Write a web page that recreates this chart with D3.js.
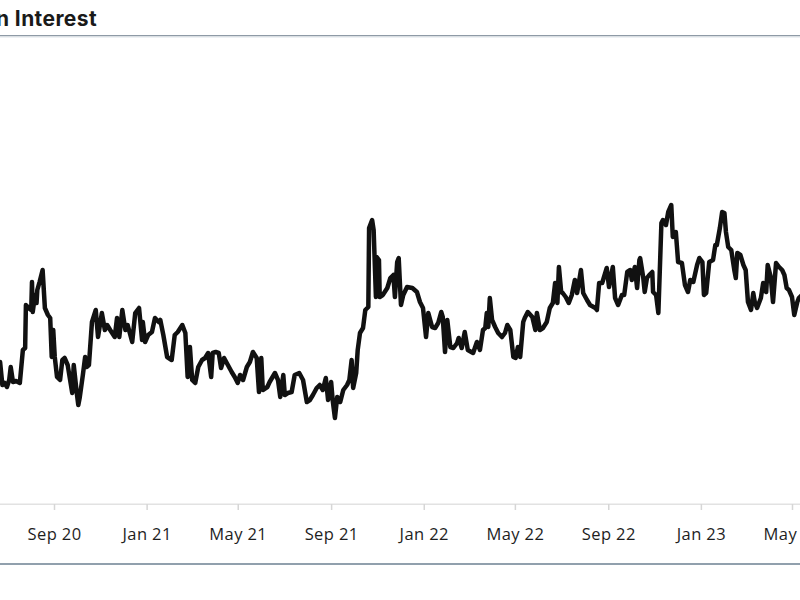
<!DOCTYPE html>
<html>
<head>
<meta charset="utf-8">
<script src="https://cdn.jsdelivr.net/npm/d3@7/dist/d3.min.js"></script>
<style>
  html, body { margin: 0; padding: 0; background: #ffffff; }
  svg { display: block; }
</style>
</head>
<body>
<svg id="chart" width="800" height="600"></svg>
<script>
const titleText = "Open Interest";

const dates = [
"2020-06-22","2020-06-25","2020-06-28","2020-07-01","2020-07-04","2020-07-06","2020-07-09","2020-07-13","2020-07-18","2020-07-22",
"2020-07-25","2020-07-26","2020-07-30","2020-08-02","2020-08-03","2020-08-04","2020-08-07","2020-08-09","2020-08-10","2020-08-13",
"2020-08-17","2020-08-20","2020-08-24","2020-08-27","2020-08-29","2020-08-31","2020-09-02","2020-09-05","2020-09-09","2020-09-12",
"2020-09-15","2020-09-19","2020-09-25","2020-09-27","2020-10-01","2020-10-03","2020-10-05","2020-10-09","2020-10-12","2020-10-14",
"2020-10-17","2020-10-21","2020-10-26","2020-10-29","2020-11-03","2020-11-07","2020-11-10","2020-11-14","2020-11-20","2020-11-23",
"2020-11-26","2020-11-30","2020-12-04","2020-12-07","2020-12-13","2020-12-17","2020-12-22","2020-12-26","2020-12-27","2020-12-30",
"2021-01-03","2021-01-08","2021-01-12","2021-01-17","2021-01-19","2021-01-23","2021-01-28","2021-02-03","2021-02-07","2021-02-11",
"2021-02-17","2021-02-21","2021-02-24","2021-02-27","2021-03-02","2021-03-06","2021-03-10","2021-03-15","2021-03-19","2021-03-23",
"2021-03-27","2021-03-29","2021-04-02","2021-04-06","2021-04-09","2021-04-13","2021-04-18","2021-04-23","2021-04-27","2021-05-01",
"2021-05-04","2021-05-08","2021-05-13","2021-05-17","2021-05-21","2021-05-26","2021-05-29","2021-06-01","2021-06-03","2021-06-09",
"2021-06-12","2021-06-19","2021-06-23","2021-06-26","2021-06-30","2021-07-02","2021-07-06","2021-07-11","2021-07-15","2021-07-21",
"2021-07-26","2021-07-31","2021-08-04","2021-08-08","2021-08-13","2021-08-17","2021-08-21","2021-08-25","2021-08-28","2021-09-01",
"2021-09-03","2021-09-06","2021-09-09","2021-09-13","2021-09-17","2021-09-22","2021-09-25","2021-09-28","2021-09-30","2021-10-04",
"2021-10-06","2021-10-09","2021-10-13","2021-10-16","2021-10-20","2021-10-21","2021-10-25","2021-10-27","2021-10-30","2021-10-31",
"2021-11-03","2021-11-04","2021-11-08","2021-11-14","2021-11-18","2021-11-22","2021-11-24","2021-11-27","2021-11-29","2021-12-02",
"2021-12-05","2021-12-10","2021-12-17","2021-12-23","2021-12-27","2021-12-31","2022-01-04","2022-01-07","2022-01-12","2022-01-16",
"2022-01-20","2022-01-24","2022-01-26","2022-01-29","2022-02-01","2022-02-05","2022-02-09","2022-02-14","2022-02-16","2022-02-20",
"2022-02-24","2022-02-28","2022-03-07","2022-03-12","2022-03-16","2022-03-20","2022-03-23","2022-03-25","2022-03-27","2022-03-29",
"2022-04-01","2022-04-05","2022-04-09","2022-04-14","2022-04-18","2022-04-21","2022-04-25","2022-04-29","2022-05-02","2022-05-05",
"2022-05-08","2022-05-12","2022-05-14","2022-05-18","2022-05-24","2022-05-28","2022-05-30","2022-06-03","2022-06-07","2022-06-12",
"2022-06-16","2022-06-20","2022-06-23","2022-06-26","2022-06-28","2022-07-01","2022-07-03","2022-07-07","2022-07-11","2022-07-15",
"2022-07-19","2022-07-22","2022-07-27","2022-07-30","2022-08-04","2022-08-08","2022-08-15","2022-08-17","2022-08-20","2022-08-24",
"2022-08-26","2022-08-30","2022-09-02","2022-09-07","2022-09-10","2022-09-14","2022-09-19","2022-09-22","2022-09-26","2022-09-30",
"2022-10-02","2022-10-06","2022-10-09","2022-10-12","2022-10-13","2022-10-17","2022-10-19","2022-10-22","2022-10-25","2022-10-29",
"2022-10-30","2022-11-03","2022-11-06","2022-11-10","2022-11-12","2022-11-16","2022-11-19","2022-11-23","2022-11-25","2022-11-29",
"2022-12-02","2022-12-07","2022-12-11","2022-12-15","2022-12-18","2022-12-22","2022-12-27","2022-12-30","2023-01-03","2023-01-05",
"2023-01-08","2023-01-12","2023-01-17","2023-01-20","2023-01-22","2023-01-26","2023-01-29","2023-02-01","2023-02-03","2023-02-06",
"2023-02-10","2023-02-14","2023-02-16","2023-02-18","2023-02-22","2023-02-26","2023-03-01","2023-03-04","2023-03-08","2023-03-11",
"2023-03-13","2023-03-16","2023-03-21","2023-03-24","2023-03-28","2023-03-30","2023-04-03","2023-04-06","2023-04-10","2023-04-14",
"2023-04-18","2023-04-21","2023-04-24","2023-04-27","2023-05-01","2023-05-04","2023-05-08","2023-05-10","2023-05-14"
];

const values = [
14.2,11.9,12.1,11.7,12.4,13.7,12.2,12.3,12.1,15.4,
15.6,19.9,19.6,19.4,22.2,19.2,20.9,20.1,21.4,22.2,
23.4,19.6,18.9,18.6,14.7,17.4,14.7,12.7,12.4,14.4,
14.6,13.9,11.1,13.9,11.1,9.9,10.7,12.9,14.7,13.7,
13.9,18.2,19.4,16.7,19.1,17.4,17.9,17.4,16.7,18.6,
16.7,19.4,17.4,17.9,16.2,19.1,19.6,16.4,18.2,16.2,
16.9,17.2,18.6,18.2,18.4,16.9,14.7,14.4,16.9,17.2,
17.9,17.1,12.7,15.7,12.4,12.1,13.7,14.4,14.6,15.1,
12.7,15.1,15.2,15.1,13.6,14.6,13.9,13.2,12.7,12.1,
12.9,12.4,13.7,14.2,15.2,14.6,11.2,14.6,11.4,11.7,
12.2,13.1,12.4,10.7,12.9,10.9,11.1,11.2,12.9,13.1,
12.4,10.2,10.4,10.9,11.6,11.9,11.4,12.6,10.4,12.2,
10.4,8.6,10.7,10.2,11.4,11.9,12.4,14.4,11.6,13.1,
15.4,17.1,17.6,19.4,19.7,27.6,28.4,27.4,20.7,24.7,
24.4,20.7,20.9,21.6,22.6,22.9,20.7,24.2,24.6,19.9,
20.9,21.7,21.6,21.2,20.2,19.6,16.7,19.1,17.7,17.6,
18.1,19.2,18.7,15.2,18.4,15.7,15.6,16.1,16.6,15.6,
17.2,15.4,15.1,16.2,15.4,17.4,17.6,19.1,17.7,20.6,
18.4,17.7,17.1,16.7,17.1,17.9,17.4,14.7,14.6,15.7,
14.7,18.2,18.6,19.2,18.7,17.4,19.1,17.4,17.6,18.2,
19.6,20.1,22.1,20.1,23.7,21.2,21.1,20.7,20.1,20.9,
22.4,21.1,23.4,21.1,20.4,19.9,19.6,19.4,22.1,22.1,
22.6,23.6,21.7,23.7,20.6,19.9,20.9,20.9,23.2,23.4,
22.4,23.7,21.6,24.4,24.6,22.7,21.2,22.6,22.9,23.2,
21.2,20.9,19.1,28.1,28.4,27.9,29.2,29.9,26.7,27.2,
24.2,24.1,21.9,21.2,22.4,22.2,23.9,24.6,24.2,20.9,
21.1,24.2,24.4,25.9,25.9,27.6,29.2,29.1,27.2,25.7,
25.4,23.4,22.6,25.1,24.9,23.9,23.4,20.2,19.4,21.1,
20.2,19.6,20.6,22.1,21.2,23.9,22.7,20.2,24.1,23.7,
23.4,22.9,21.6,21.4,20.7,18.9,20.2,20.6,20.9
];

const tickDates = ["2020-09-01","2021-01-01","2021-05-01","2021-09-01","2022-01-01","2022-05-01","2022-09-01","2023-01-01","2023-05-01"];
const tickLabels = ["Sep 20","Jan 21","May 21","Sep 21","Jan 22","May 22","Sep 22","Jan 23","May 23"];

const parse = d3.timeParse("%Y-%m-%d");
const data = dates.map((d, i) => ({ date: parse(d), value: values[i] }));
const ticks = tickDates.map(parse);

const W = 800, H = 600;
const svg = d3.select("#chart");

const x = d3.scaleTime()
  .domain([parse("2020-09-01"), parse("2023-05-01")])
  .range([54, 792]);
const y = d3.scaleLinear().domain([0, 50]).range([504, 4]);

// title (the reference is a crop: only its end is in view)
svg.append("text")
  .attr("x", 97).attr("y", 26)
  .attr("text-anchor", "end")
  .attr("font-family", "Inter, 'Open Sans', sans-serif")
  .attr("font-weight", 700)
  .attr("font-size", 21)
  .attr("letter-spacing", 0.4)
  .attr("fill", "#1a1a1a")
  .text(titleText);

// header rule
svg.append("rect").attr("x", 0).attr("y", 35).attr("width", W).attr("height", 1.5).attr("fill", "#8e9aa6");
svg.append("rect").attr("x", 0).attr("y", 36.5).attr("width", W).attr("height", 1.5).attr("fill", "#eef1f4");

// baseline
svg.append("rect").attr("x", 0).attr("y", 503.5).attr("width", W).attr("height", 1.5).attr("fill", "#e2e2e2");

// x axis
const axis = d3.axisBottom(x)
  .tickValues(ticks)
  .tickFormat((d, i) => tickLabels[i])
  .tickSize(6)
  .tickPadding(18);
const gx = svg.append("g").attr("transform", "translate(0,504)").call(axis);
gx.select(".domain").remove();
gx.selectAll(".tick line").attr("stroke", "#d6d6d6").attr("stroke-width", 1.5);
gx.selectAll(".tick text")
  .attr("font-family", "'Open Sans', sans-serif")
  .attr("font-size", 16.5)
  .attr("letter-spacing", 0.4)
  .attr("fill", "#1e1e1e");

// bottom rule
svg.append("rect").attr("x", 0).attr("y", 563).attr("width", W).attr("height", 2).attr("fill", "#91a0ad");

// line
svg.append("defs").append("clipPath").attr("id", "clip")
  .append("rect").attr("x", 0).attr("y", 40).attr("width", W).attr("height", 460);

const line = d3.line().x(d => x(d.date)).y(d => y(d.value));
svg.append("path")
  .datum(data)
  .attr("clip-path", "url(#clip)")
  .attr("fill", "none")
  .attr("stroke", "#111111")
  .attr("stroke-width", 4.5)
  .attr("stroke-linejoin", "round")
  .attr("stroke-linecap", "round")
  .attr("d", line);
</script>
</body>
</html>
